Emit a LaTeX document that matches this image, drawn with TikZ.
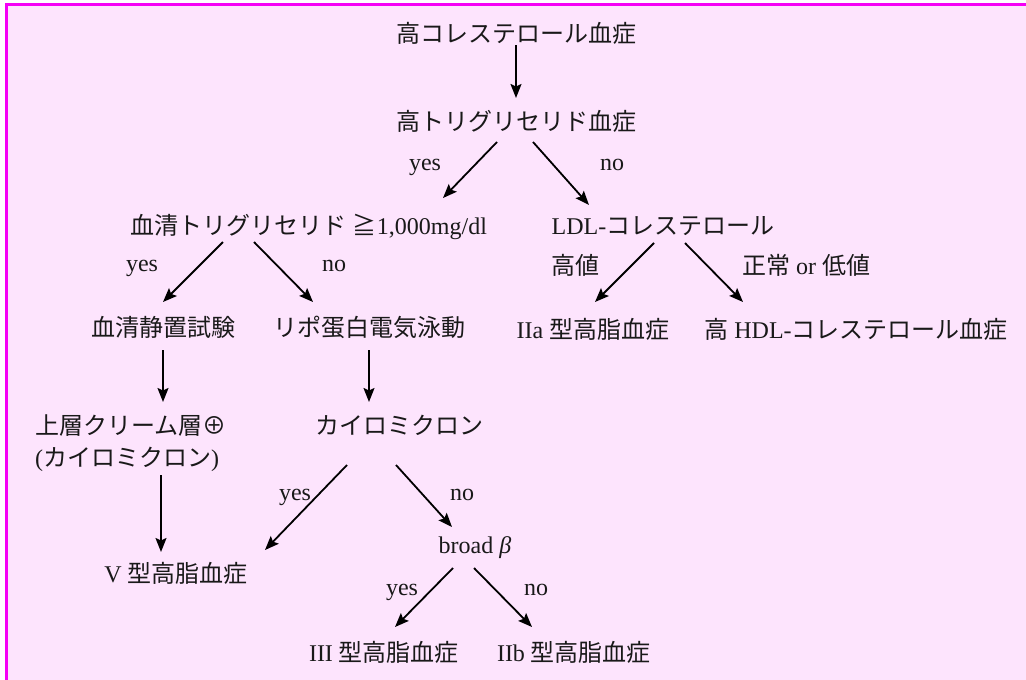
\documentclass[tikz,border=0pt]{standalone}
\usepackage{fontspec}
\setmainfont{Liberation Serif}
\newfontfamily\jp{Noto Sans CJK JP}
\usetikzlibrary{arrows.meta,calc}
\definecolor{bgpink}{RGB}{253,228,253}
\definecolor{framemag}{RGB}{245,0,245}
\definecolor{txt}{RGB}{25,25,25}
\begin{document}
\begin{tikzpicture}[x=1pt,y=-1pt,
  lbl/.style={anchor=base,inner sep=0pt,text=txt,font=\fontsize{24pt}{28pt}\selectfont},
  arr/.style={line width=1.8pt,-{Stealth[length=14pt,width=11pt,inset=2.5pt]}}]
\useasboundingbox (0,0) rectangle (1026,680);
\fill[white] (0,0) rectangle (1026,680);
\fill[bgpink] (6.5,4.7) rectangle (1026,680);
\draw[framemag,line width=3pt] (6.5,680) -- (6.5,4.7) -- (1026,4.7);
% nodes
\node[lbl] (t1) at (516,42) {\jp 高コレステロール血症};
\node[lbl] (t2) at (516,130) {\jp 高トリグリセリド血症};
\node[lbl] (l1y) at (425,170) {yes};
\node[lbl] (l1n) at (612,170) {no};
\node[lbl] (t3a) at (309,234) {{\jp 血清トリグリセリド} {\jp ≧}1,000mg/dl};
\node[lbl] (t3b) at (663,234) {LDL-{\jp コレステロール}};
\node[lbl] (l2y) at (142,271) {yes};
\node[lbl] (l2n) at (334,271) {no};
\node[lbl] (l3a) at (575,274) {\jp 高値};
\node[lbl] (l3b) at (806,274) {{\jp 正常} or {\jp 低値}};
\node[lbl] (t4a) at (163,336) {\jp 血清静置試験};
\node[lbl] (t4b) at (369,336) {\jp リポ蛋白電気泳動};
\node[lbl] (t4c) at (593,338) {IIa {\jp 型高脂血症}};
\node[lbl] (t4d) at (856,338) {{\jp 高} HDL-{\jp コレステロール血症}};
\node[lbl,anchor=base west] (t5a) at (35,434) {\jp 上層クリーム層⊕};
\node[lbl,anchor=base west] (t5a2) at (35,466) {({\jp カイロミクロン})};
\node[lbl] (t5b) at (399,434) {\jp カイロミクロン};
\node[lbl] (l4y) at (295,500) {yes};
\node[lbl] (l4n) at (462,500) {no};
\node[lbl] (t6a) at (176,582) {V {\jp 型高脂血症}};
\node[lbl] (t6b) at (475,553) {broad {\itshape β}};
\node[lbl] (l5y) at (402,595) {yes};
\node[lbl] (l5n) at (536,595) {no};
\node[lbl] (t7a) at (384,661) {III {\jp 型高脂血症}};
\node[lbl] (t7b) at (574,661) {IIb {\jp 型高脂血症}};
% arrows
\draw[arr] ($(t1.base)+(0,3)$) -- ($(t2.base)+(0,-32)$);
\draw[arr] ($(t2.base)+(-19,12)$) -- ($(t3a.base)+(134,-36)$);
\draw[arr] ($(t2.base)+(17,12)$) -- ($(t3b.base)+(-74,-29)$);
\draw[arr] ($(t3a.base)+(-86,8)$) -- ($(t4a.base)+(0,-34)$);
\draw[arr] ($(t3a.base)+(-55,8)$) -- ($(t4b.base)+(-56,-34)$);
\draw[arr] ($(t3b.base)+(-9,9)$) -- ($(t4c.base)+(2,-36)$);
\draw[arr] ($(t3b.base)+(22,9)$) -- ($(t4d.base)+(-113,-36)$);
\draw[arr] ($(t4a.base)+(0,14)$) -- ($(t5a.base west)+(128,-32)$);
\draw[arr] ($(t4b.base)+(0,14)$) -- ($(t5b.base)+(-30,-32)$);
\draw[arr] ($(t5a2.base west)+(126,9)$) -- ($(t6a.base)+(-15,-30)$);
\draw[arr] ($(t5b.base)+(-52,31)$) -- ($(t6a.base)+(89,-32)$);
\draw[arr] ($(t5b.base)+(-3,31)$) -- ($(t6b.base)+(-23,-26)$);
\draw[arr] ($(t6b.base)+(-22,15)$) -- ($(t7a.base)+(11,-34)$);
\draw[arr] ($(t6b.base)+(-1,15)$) -- ($(t7b.base)+(-42,-34)$);
\end{tikzpicture}
\end{document}
